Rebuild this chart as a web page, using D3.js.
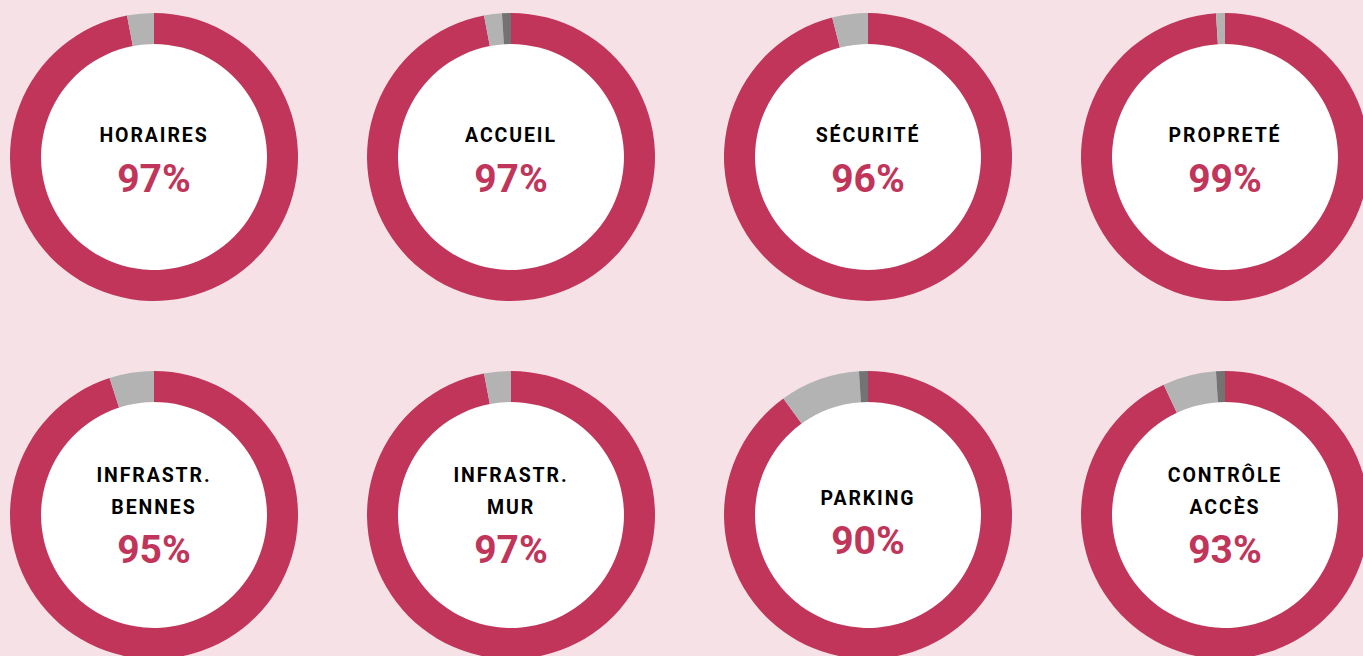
<!DOCTYPE html>
<html><head><meta charset="utf-8">
<script src="https://cdn.jsdelivr.net/npm/d3@7"></script>
<style>
html,body{margin:0;padding:0;background:#f5e1e6;overflow:hidden;}
svg{display:block;}
</style></head>
<body>
<svg id="chart" width="1363" height="656"></svg>
<script>
const labels = [["HORAIRES"],["ACCUEIL"],["SÉCURITÉ"],["PROPRETÉ"],["INFRASTR.","BENNES"],["INFRASTR.","MUR"],["PARKING"],["CONTRÔLE","ACCÈS"]];
const satisfied = [97,97,96,99,95,97,90,93];
const neutral   = [3,2,4,1,5,3,9,6];
const unsatisfied = [0,1,0,0,0,0,1,1];
const segColors = ["#c1355a","#b3b3b3","#737373"];

const svg = d3.select("#chart");
const col = d3.scalePoint().domain(d3.range(4)).range([154,1225]);
const row = d3.scalePoint().domain(d3.range(2)).range([157,515]);
const outerR = 144, innerR = 113;
const pie = d3.pie().sort(null).value(d=>d);
const arc = d3.arc().innerRadius(innerR).outerRadius(outerR);

labels.forEach((lab,i)=>{
  const r = Math.floor(i/4);
  const g = svg.append("g").attr("transform",`translate(${col(i%4)},${row(r)})`);
  g.append("circle").attr("r",innerR).attr("fill","#ffffff");
  const vals = [satisfied[i],neutral[i],unsatisfied[i]];
  g.selectAll("path").data(pie(vals)).enter().append("path")
    .attr("d",arc).attr("fill",(d,j)=>segColors[j]);
  const base = lab.length===1 ? [-15 + 5*r] : [-33,-1];
  lab.forEach((t,k)=>{
    g.append("text").attr("y",base[k]).attr("text-anchor","middle")
      .attr("font-family","Roboto, sans-serif").attr("font-weight",700)
      .attr("font-size",19.5).attr("letter-spacing","1.9px").attr("fill","#000")
      .text(t);
  });
  g.append("text").attr("y", lab.length===1 ? 35 + 4*r : 48).attr("text-anchor","middle")
    .attr("font-family","Roboto, sans-serif").attr("font-weight",700)
    .attr("font-size",39).attr("fill",segColors[0])
    .text(satisfied[i]+"%");
});
</script>
</body></html>
